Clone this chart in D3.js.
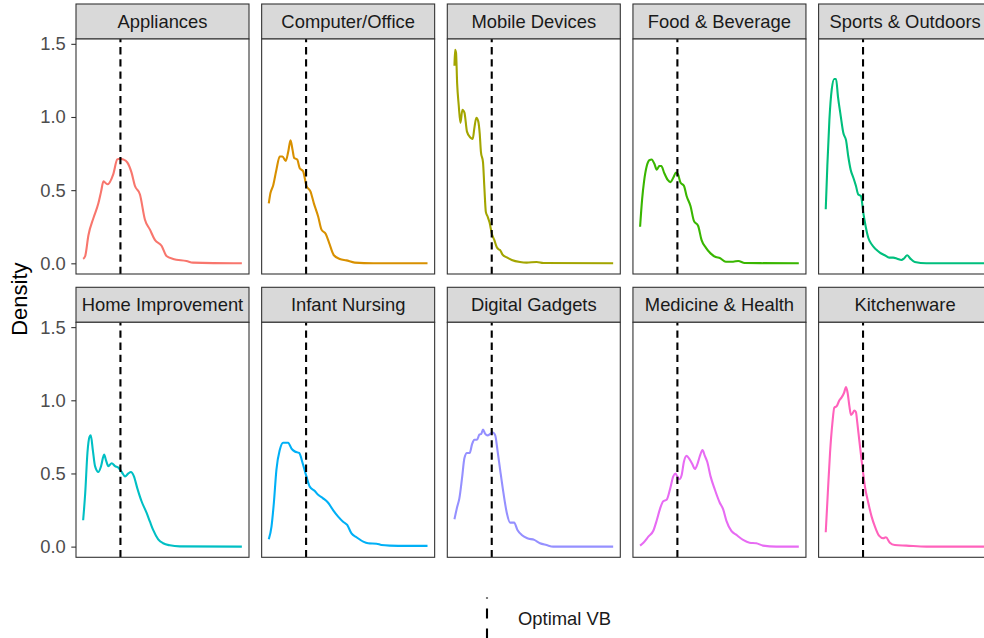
<!DOCTYPE html>
<html><head><meta charset="utf-8">
<script src="https://cdn.jsdelivr.net/npm/d3@7"></script>
<style>
body{margin:0;background:#fff;}
svg{display:block;font-family:"Liberation Sans", Arial, Helvetica, sans-serif;}
</style>
</head><body>
<svg id="chart" width="984" height="638"></svg>
<script>
// ---------------- data ----------------
const categories = ["Appliances","Computer/Office","Mobile Devices","Food & Beverage","Sports & Outdoors",
  "Home Improvement","Infant Nursing","Digital Gadgets","Medicine & Health","Kitchenware"];
const colors = ["#F8766D","#D89000","#A3A500","#39B600","#00BF7D","#00BFC4","#00B0F6","#9590FF","#E76BF3","#FF62BC"];
const yTicks = [0.0, 0.5, 1.0, 1.5];
const optimalVB = 23.5;
const legendLabel = "Optimal VB";
const yTitle = "Density";

const appliancesX = [0,1.3,3.3,6.5,9.6,11.3,12.8,15.3,19.0,21.5,23.2,25.3,27.8,30.5,32.6,35.8,38.9,42.1,45.2,49.4,52.5,56.7,65.1,69.2,100];
const appliancesY = [0.03,0.05,0.19,0.31,0.41,0.49,0.56,0.54,0.61,0.71,0.715,0.71,0.69,0.62,0.53,0.47,0.30,0.23,0.16,0.12,0.05,0.03,0.016,0.005,0];

const computerX = [0,1.05,2.7,4.8,6.9,8.6,10.7,12.2,13.7,14.9,16.0,17.9,19.5,21.6,23.7,26.3,28.4,31.1,33.2,35.9,38.0,41.0,44.7,48.9,54.2,65.8,100];
const computerY = [0.41,0.48,0.53,0.64,0.73,0.73,0.70,0.76,0.84,0.78,0.72,0.71,0.65,0.63,0.53,0.49,0.41,0.32,0.23,0.20,0.14,0.055,0.03,0.02,0.005,0.0,0];

const mobileX = [0,0.4,1.0,1.7,2.7,3.8,5.0,6.3,7.9,10.0,11.5,12.5,13.8,15.0,15.9,16.7,18.0,18.8,19.8,20.9,22.1,23.6,25.1,26.7,27.8,28.8,30.3,33.0,36.1,41.3,45.5,51.8,56.0,100];
const mobileY = [1.35,1.46,1.44,1.23,1.08,0.96,1.05,1.03,0.90,0.86,0.85,0.92,0.995,0.97,0.89,0.76,0.69,0.53,0.35,0.32,0.28,0.20,0.16,0.11,0.096,0.09,0.06,0.04,0.023,0.009,0.005,0.009,0.002,0];

const foodX = [0,1.3,2.5,4.2,5.9,7.3,9.0,10.5,12.1,13.4,15.1,17.4,19.2,20.9,22.6,23.8,25.5,27.6,29.3,31.8,33.9,36.6,38.7,41.4,44.4,47.7,50.2,54.0,58.6,61.9,65.9,100];
const foodY = [0.25,0.44,0.56,0.665,0.705,0.71,0.68,0.64,0.665,0.665,0.62,0.57,0.555,0.585,0.62,0.61,0.55,0.53,0.46,0.39,0.29,0.255,0.16,0.107,0.068,0.043,0.036,0.011,0.011,0.016,0.002,0];

const sportsX = [0,1.0,2.3,3.8,5.4,6.5,7.7,9.4,11.1,12.8,14.2,15.7,17.4,19.0,20.5,22.2,23.6,25.1,26.8,28.9,31.6,34.1,37.2,40.0,42.5,45.0,47.7,49.2,51.3,53.3,56.1,63.4,100];
const sportsY = [0.37,0.665,0.98,1.19,1.26,1.26,1.14,1.01,0.89,0.84,0.73,0.64,0.585,0.53,0.47,0.46,0.35,0.255,0.175,0.13,0.096,0.073,0.055,0.039,0.039,0.032,0.023,0.032,0.055,0.032,0.009,0,0];

const homeX = [0,1.3,2.7,4.0,4.8,6.1,7.5,9.6,11.3,13.2,14.4,15.9,18.0,20.1,22.2,24.3,26.4,28.5,30.1,32.0,34.1,36.8,40.0,42.1,44.1,47.3,50.4,54.6,60.9,100];
const homeY = [0.18,0.365,0.64,0.75,0.76,0.66,0.55,0.51,0.55,0.63,0.59,0.55,0.57,0.55,0.54,0.51,0.48,0.50,0.51,0.48,0.40,0.31,0.23,0.17,0.114,0.05,0.023,0.009,0.002,0];

const infantX = [0,1.7,3.2,4.8,6.9,9.0,12.2,14.3,16.4,19.1,21.6,23.7,25.8,29.0,31.1,34.2,37.4,40.5,43.7,46.8,49.4,52.1,55.3,59.5,62.6,67.9,71.0,76.3,86.8,100];
const infantY = [0.05,0.137,0.30,0.525,0.66,0.71,0.71,0.67,0.65,0.64,0.56,0.48,0.41,0.38,0.354,0.33,0.30,0.25,0.205,0.17,0.148,0.09,0.064,0.034,0.023,0.02,0.011,0.007,0.005,0.005];

const digitalX = [0,1.7,3.1,4.8,6.3,7.9,9.6,11.1,12.5,14.2,15.7,16.9,18.0,19.4,20.9,22.5,24.2,25.7,27.1,28.8,30.9,33.0,35.1,37.6,39.7,42.4,45.9,50.3,53.9,58.0,62.2,100];
const digitalY = [0.187,0.27,0.33,0.47,0.605,0.64,0.64,0.70,0.73,0.73,0.765,0.77,0.80,0.77,0.76,0.77,0.78,0.76,0.66,0.525,0.365,0.23,0.164,0.164,0.114,0.08,0.057,0.046,0.023,0.011,0,0];

const medicineX = [0,2.1,5.2,8.4,10.5,12.6,14.6,16.7,18.8,20.9,22.2,23.4,24.7,26.2,27.6,29.3,31.0,33.1,34.5,36.0,37.7,39.3,40.8,42.3,44.4,47.1,50.2,52.3,54.4,57.5,60.7,64.9,69.0,73.2,77.4,85.8,100];
const medicineY = [0.007,0.027,0.068,0.11,0.18,0.26,0.31,0.32,0.39,0.48,0.50,0.48,0.46,0.49,0.58,0.62,0.60,0.56,0.53,0.56,0.62,0.66,0.62,0.58,0.48,0.39,0.30,0.256,0.176,0.107,0.08,0.046,0.027,0.023,0.007,0,0];

const kitchenX = [0,1.3,2.7,4.2,5.4,6.9,8.6,10.0,11.5,12.8,13.8,14.9,15.9,16.9,18.0,19.0,19.9,21.1,22.6,23.6,24.7,26.8,28.9,31.0,33.7,36.2,37.9,40.4,43.5,50.8,63.4,100];
const kitchenY = [0.098,0.365,0.64,0.845,0.95,0.96,1.0,1.02,1.05,1.09,1.05,0.96,0.90,0.91,0.93,0.92,0.845,0.73,0.59,0.50,0.41,0.30,0.205,0.137,0.073,0.057,0.064,0.027,0.011,0.007,0,0];

const seriesX = [appliancesX,computerX,mobileX,foodX,sportsX,homeX,infantX,digitalX,medicineX,kitchenX];
const seriesY = [appliancesY,computerY,mobileY,foodY,sportsY,homeY,infantY,digitalY,medicineY,kitchenY];

// ---------------- layout ----------------
const nCols = 5;
const panelW = 173, panelH = 235, stripH = 35;
const left0 = 76, colStep = 185.65;
const top0 = 4, rowStep = 283.3;
const fontSmall = "18.4px", fontTitle = "22px";

const series = categories.map((c,i)=>({
  name:c, color:colors[i],
  pts: seriesX[i].map((x,j)=>({x:x, y:seriesY[i][j]}))
}));

const allX = seriesX.flat(), allY = seriesY.flat();
const xMin = d3.min(allX), xMax = d3.max(allX);
const yMin = Math.min(0, d3.min(allY)), yMax = d3.max(allY);
const xPad = (xMax-xMin)*0.045, yPad = (yMax-yMin)*0.05;

const x = d3.scaleLinear().domain([xMin-xPad, xMax+xPad]).range([0, panelW]);
const y = d3.scaleLinear().domain([yMin-yPad, yMax+yPad]).range([panelH, 0]);

const svg = d3.select("#chart");
svg.append("rect").attr("width",984).attr("height",638).attr("fill","#fff");

const defs = svg.append("defs");
defs.append("clipPath").attr("id","pclip").append("rect").attr("width",panelW).attr("height",panelH);

const line = d3.line().x(d=>x(d.x)).y(d=>y(d.y)).curve(d3.curveMonotoneX);

series.forEach((s,i)=>{
  const col = i % nCols, row = Math.floor(i / nCols);
  const gx = left0 + col*colStep, gy = top0 + row*rowStep;
  const g = svg.append("g").attr("transform",`translate(${gx},${gy})`);
  // strip
  g.append("rect").attr("width",panelW).attr("height",stripH)
    .attr("fill","#D9D9D9").attr("stroke","#333333").attr("stroke-width",1.1);
  g.append("text").attr("x",panelW/2).attr("y",stripH/2).attr("dy","0.36em")
    .attr("text-anchor","middle").attr("font-size",fontSmall).attr("fill","#1A1A1A").text(s.name);
  // panel
  const p = g.append("g").attr("transform",`translate(0,${stripH})`);
  p.append("rect").attr("width",panelW).attr("height",panelH).attr("fill","#fff");
  const inner = p.append("g").attr("clip-path","url(#pclip)");
  inner.append("path").datum(s.pts).attr("d",line).attr("fill","none")
    .attr("stroke",s.color).attr("stroke-width",2.1).attr("stroke-linejoin","round");
  inner.append("line").attr("x1",x(optimalVB)).attr("x2",x(optimalVB))
    .attr("y1",panelH).attr("y2",0).attr("stroke","#000").attr("stroke-width",2.1)
    .attr("stroke-dasharray","7.3,4.9");
  p.append("rect").attr("width",panelW).attr("height",panelH).attr("fill","none")
    .attr("stroke","#333333").attr("stroke-width",1.1);
  if(col===0){
    const ax = p.append("g").call(d3.axisLeft(y).tickValues(yTicks).tickFormat(d3.format(".1f")).tickSize(4.7).tickPadding(5.5));
    ax.select(".domain").remove();
    ax.selectAll(".tick line").attr("stroke","#333333").attr("stroke-width",1.1);
    ax.selectAll(".tick text").attr("font-size",fontSmall).attr("fill","#4D4D4D")
      .attr("font-family","Liberation Sans, Arial, sans-serif");
  }
});

// y title
const panelsTop = top0 + stripH, panelsBottom = top0 + rowStep + stripH + panelH;
svg.append("text").attr("transform",`translate(27,${(panelsTop+panelsBottom)/2 + 1}) rotate(-90)`)
  .attr("text-anchor","middle").attr("font-size",fontTitle).attr("fill","#000").text(yTitle);

// legend
svg.append("line").attr("x1",487).attr("x2",487).attr("y1",597.5).attr("y2",646)
  .attr("stroke","#000").attr("stroke-width",2.1).attr("stroke-dasharray","10,10").attr("stroke-dashoffset",9);
svg.append("text").attr("x",518).attr("y",625).attr("font-size",fontSmall)
  .attr("fill","#1A1A1A").text(legendLabel);
</script>
</body></html>
